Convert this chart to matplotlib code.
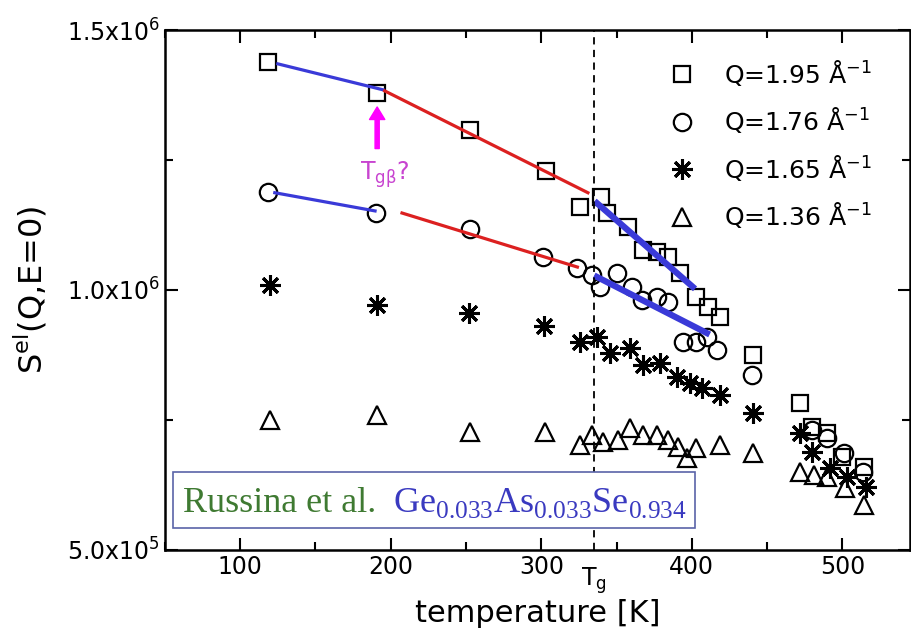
import matplotlib
matplotlib.use("Agg")
import matplotlib.pyplot as plt
from matplotlib.patches import Rectangle
from matplotlib.ticker import MultipleLocator

plt.rcParams['font.family'] = ['DejaVu Sans']

# Q = 1.95 1/A (squares)
T_sq = [118.6, 191, 252.6, 303, 325.6, 339.5, 343.5, 357.5, 367.4, 376.7, 384, 392,
        403, 410.6, 418.5, 440.4, 471.6, 480, 489.5, 500, 514.7]
S_sq = [1.438e6, 1.379e6, 1.308e6, 1.229e6, 1.160e6, 1.179e6, 1.148e6, 1.121e6, 1.077e6,
        1.073e6, 1.063e6, 1.033e6, 0.987e6, 0.967e6, 0.948e6, 0.875e6, 0.783e6, 0.737e6,
        0.725e6, 0.679e6, 0.660e6]

# Q = 1.76 1/A (circles)
T_ci = [118.6, 190, 252.6, 301, 324, 333.6, 339, 350, 360, 367, 376.7, 384, 394, 403,
        410, 417, 440, 479.6, 489.5, 501, 513.4]
S_ci = [1.188e6, 1.148e6, 1.117e6, 1.063e6, 1.042e6, 1.029e6, 1.006e6, 1.033e6, 1.006e6,
        0.981e6, 0.987e6, 0.977e6, 0.900e6, 0.900e6, 0.910e6, 0.885e6, 0.837e6, 0.731e6,
        0.715e6, 0.686e6, 0.650e6]

# Q = 1.65 1/A (asterisks)
T_st = [119.9, 191, 252, 302, 325.6, 337, 345.5, 358.8, 367.4, 378.7, 390, 398.6, 407,
        418.5, 440.4, 471.6, 479.6, 491.5, 502.8, 516]
S_st = [1.010e6, 0.971e6, 0.956e6, 0.931e6, 0.900e6, 0.910e6, 0.879e6, 0.889e6, 0.856e6,
        0.860e6, 0.833e6, 0.821e6, 0.812e6, 0.798e6, 0.763e6, 0.725e6, 0.688e6, 0.658e6,
        0.640e6, 0.621e6]

# Q = 1.36 1/A (triangles)
T_tr = [120, 191, 252.6, 302.4, 325.6, 333.6, 341, 351, 358.8, 367.4, 376.7, 384, 390.6,
        396.6, 403, 418.5, 440.4, 471.6, 481.5, 489.5, 501.5, 514.7]
S_tr = [0.750e6, 0.760e6, 0.727e6, 0.727e6, 0.702e6, 0.721e6, 0.708e6, 0.712e6, 0.735e6,
        0.721e6, 0.721e6, 0.712e6, 0.698e6, 0.677e6, 0.696e6, 0.702e6, 0.686e6, 0.650e6,
        0.644e6, 0.640e6, 0.619e6, 0.587e6]

# guide lines drawn over the data
blue_sq1 = ([125, 195], [1.435e6, 1.385e6])
red_sq = ([196, 331], [1.383e6, 1.187e6])
blue_sq2 = ([337, 400.6], [1.167e6, 1.006e6])
blue_ci1 = ([123, 189.6], [1.187e6, 1.152e6])
red_ci = ([207.5, 324], [1.148e6, 1.044e6])
blue_ci2 = ([337, 410], [1.025e6, 0.917e6])

Tg = 335
Tgb = 191

fig = plt.figure(figsize=(9.11, 6.40), dpi=100)
ax = fig.add_axes([0.181, 0.141, 0.818, 0.812])

mk = dict(linestyle='none', markerfacecolor='none', markeredgecolor='black',
          markeredgewidth=1.6, color='black')
ax.plot(T_sq, S_sq, marker='s', markersize=12, label='Q=1.95 Å$^{\\mathregular{-1}}$', **mk)
ax.plot(T_ci, S_ci, marker='o', markersize=12.5, label='Q=1.76 Å$^{\\mathregular{-1}}$', **mk)
ax.plot(T_st, S_st, marker=(8, 2, 0), markersize=15, label='Q=1.65 Å$^{\\mathregular{-1}}$',
        **{**mk, 'markeredgewidth': 2.2})
ax.plot(T_tr, S_tr, marker='^', markersize=13, label='Q=1.36 Å$^{\\mathregular{-1}}$', **mk)

blue = '#3a3ad8'
red = '#dc2020'
ax.plot(*blue_sq1, color=blue, lw=2.3)
ax.plot(*red_sq, color=red, lw=2.3)
ax.plot(*blue_sq2, color=blue, lw=4.5)
ax.plot(*blue_ci1, color=blue, lw=2.3)
ax.plot(*red_ci, color=red, lw=2.3)
ax.plot(*blue_ci2, color=blue, lw=4.5)

ax.axvline(Tg, color='black', ls=(0, (4, 3)), lw=1.3)

ax.annotate('', xy=(Tgb, 1.352e6), xytext=(Tgb, 1.272e6),
            arrowprops=dict(color='#ff00ff', width=3, headwidth=11, headlength=9, shrink=0))
ax.text(Tgb + 5, 1.221e6, 'T$_{\\mathregular{g\u03b2}}$?', color='#c844d0', fontsize=17,
        ha='center', va='center')

ax.set_xlim(50, 545)
ax.set_ylim(5e5, 1.5e6)
ax.set_xticks([100, 200, 300, 400, 500])
ax.xaxis.set_minor_locator(MultipleLocator(50))
ax.set_yticks([5e5, 1e6, 1.5e6])
ax.set_yticklabels(['5.0x10$^{\\mathregular{5}}$', '1.0x10$^{\\mathregular{6}}$',
                    '1.5x10$^{\\mathregular{6}}$'])
ax.yaxis.set_minor_locator(MultipleLocator(2.5e5))
ax.tick_params(which='both', direction='in', top=True, right=True, labelsize=17, width=1.5)
ax.tick_params(which='major', length=9)
ax.tick_params(which='minor', length=6)
for s in ax.spines.values():
    s.set_linewidth(1.8)

ax.text(Tg, -0.03, 'T$_{\\mathregular{g}}$', transform=ax.get_xaxis_transform(),
        ha='center', va='top', fontsize=17)

ax.set_xlabel('temperature [K]', fontsize=22)
ax.xaxis.set_label_coords(0.5, -0.095)
ax.set_ylabel('S$^{\\mathregular{el}}$(Q,E=0)', fontsize=23)
ax.yaxis.set_label_coords(-0.155, 0.5)

ax.legend(loc='upper left', bbox_to_anchor=(0.639, 0.99), frameon=False, fontsize=18,
          handletextpad=0.9, labelspacing=0.7, handlelength=1.5)

ax.add_patch(Rectangle((0.011, 0.042), 0.70, 0.108, transform=ax.transAxes,
                       facecolor='white', edgecolor='#5a64a8', lw=1.2, zorder=5))
ax.text(0.024, 0.072, 'Russina et al.', transform=ax.transAxes, color='#3f7a32',
        fontsize=26, family='Liberation Serif', zorder=6)
ax.text(0.306, 0.072,
        'Ge$_{\\mathregular{0.033}}$As$_{\\mathregular{0.033}}$Se$_{\\mathregular{0.934}}$',
        transform=ax.transAxes, color='#3a3ac0', fontsize=26, family='Liberation Serif',
        zorder=6)

fig.savefig('out.png', dpi=100)
